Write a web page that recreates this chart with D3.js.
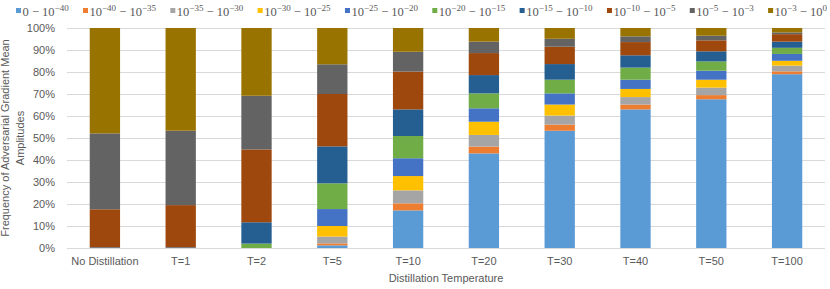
<!DOCTYPE html>
<html lang="en">
<head>
    <meta charset="UTF-8">
    <title>Distillation</title>
    <script src="https://cdn.jsdelivr.net/npm/d3@7"></script>
    <style>
        body { margin: 0; background: #fff; }
        text { font-family: "Liberation Sans", Arial, sans-serif; }
        .legend text { font-family: "Liberation Serif", "Times New Roman", serif; }
    </style>
</head>
<body>
    <svg id="mainsvg" width="830" height="289"></svg>
    <script>
        // categories (x axis)
        const categories = ["No Distillation", "T=1", "T=2", "T=5", "T=10", "T=20", "T=30", "T=40", "T=50", "T=100"];
        // series: amplitude ranges, [lower exponent, upper exponent] (null = 0)
        const seriesRanges = [[null, -40], [-40, -35], [-35, -30], [-30, -25], [-25, -20],
                              [-20, -15], [-15, -10], [-10, -5], [-5, -3], [-3, 0]];
        const seriesColors = ["#5B9BD5", "#ED7D31", "#A5A5A5", "#FFC000", "#4472C4",
                              "#70AD47", "#255E91", "#9E480E", "#636363", "#997300"];
        // percent per series, one value per category
        const s0  = [0,    0,    0,    1.2,  17.1, 43.0, 53.3, 63.0, 67.6, 79.0];
        const s1  = [0,    0,    0,    0.9,  3.2,  3.1,  2.8,  2.2,  1.9,  1.3];
        const s2  = [0,    0,    0,    3.1,  5.9,  5.3,  4.1,  3.4,  3.4,  2.6];
        const s3  = [0,    0,    0,    4.8,  6.5,  6.0,  5.0,  3.7,  3.6,  2.2];
        const s4  = [0,    0,    0,    7.7,  8.1,  6.1,  5.1,  4.2,  4.1,  3.1];
        const s5  = [0,    0,    2.0,  11.7, 10.1, 6.8,  6.2,  5.5,  4.2,  2.8];
        const s6  = [0.3,  0.3,  9.7,  16.8, 12.1, 8.3,  7.1,  5.6,  4.6,  2.8];
        const s7  = [17.3, 19.2, 33.1, 23.8, 17.2, 10.0, 7.9,  6.0,  5.0,  3.4];
        const s8  = [34.5, 33.8, 24.4, 13.5, 9.0,  5.2,  3.6,  2.6,  2.1,  0.8];
        const s9  = [47.9, 46.7, 30.8, 16.5, 10.8, 6.2,  4.9,  3.8,  3.5,  2.0];
        const seriesValues = [s0, s1, s2, s3, s4, s5, s6, s7, s8, s9];
        const yTicks = [0, 10, 20, 30, 40, 50, 60, 70, 80, 90, 100];

        const svg = d3.select("svg");
        const margin = {top: 28, right: 5, bottom: 41, left: 67};
        const width = +svg.attr('width');
        const height = +svg.attr('height');
        const innerWidth = width - margin.left - margin.right;
        const innerHeight = height - margin.top - margin.bottom;
        const textColor = "#595959";

        const g = svg.append('g')
            .attr("transform", `translate(${margin.left}, ${margin.top})`);

        const x = d3.scaleBand()
            .domain(categories)
            .range([0, innerWidth])
            .paddingInner(0.6)
            .paddingOuter(0.3);
        const y = d3.scaleLinear()
            .domain([0, 100])
            .range([innerHeight, 0]);

        // gridlines
        g.selectAll(".grid")
            .data(yTicks)
            .join("line")
            .attr("class", "grid")
            .attr("x1", 0)
            .attr("x2", innerWidth)
            .attr("y1", d => Math.round(y(d)) + 0.5)
            .attr("y2", d => Math.round(y(d)) + 0.5)
            .attr("stroke", "#D9D9D9")
            .attr("stroke-width", 1);

        // stacked data
        const rows = categories.map((c, i) => {
            const r = {cat: c};
            seriesValues.forEach((s, k) => r["s" + k] = s[i]);
            return r;
        });
        const keys = seriesValues.map((s, k) => "s" + k);
        const stacked = d3.stack().keys(keys)(rows);

        g.selectAll(".series")
            .data(stacked)
            .join("g")
            .attr("class", "series")
            .attr("fill", (d, i) => seriesColors[i])
            .selectAll("rect")
            .data(d => d)
            .join("rect")
            .attr("x", d => x(d.data.cat))
            .attr("width", x.bandwidth())
            .attr("y", d => y(d[1]))
            .attr("height", d => Math.max(0, y(d[0]) - y(d[1])));

        // y axis
        const yAxis = d3.axisLeft(y)
            .tickValues(yTicks)
            .tickFormat(d => d + "%")
            .tickSize(0)
            .tickPadding(12);
        const ya = g.append("g").call(yAxis);
        ya.select(".domain").remove();
        ya.selectAll("text")
            .attr("fill", textColor)
            .attr("font-size", 11)
            .attr("font-family", '"Liberation Sans", Arial, sans-serif');

        // x axis
        const xAxis = d3.axisBottom(x).tickSize(0).tickPadding(9);
        const xa = g.append("g")
            .attr("transform", `translate(0, ${innerHeight})`)
            .call(xAxis);
        xa.select(".domain").remove();
        xa.selectAll("text")
            .attr("fill", textColor)
            .attr("font-size", 11)
            .attr("font-family", '"Liberation Sans", Arial, sans-serif');

        // axis titles
        svg.append("text")
            .attr("x", margin.left + innerWidth / 2)
            .attr("y", 282)
            .attr("text-anchor", "middle")
            .attr("fill", textColor)
            .attr("font-size", 11)
            .text("Distillation Temperature");

        const yTitle = svg.append("text")
            .attr("transform", `translate(12, ${margin.top + innerHeight / 2}) rotate(-90)`)
            .attr("text-anchor", "middle")
            .attr("fill", textColor)
            .attr("font-size", 11);
        yTitle.append("tspan").attr("x", 0).attr("dy", -3).text("Frequency of Adversarial Gradient Mean");
        yTitle.append("tspan").attr("x", 0).attr("dy", 15).text("Amplitudes");

        // legend: build items first, then spread them across the top
        const legend = svg.append("g").attr("class", "legend");
        const mainSize = 12.5, supSize = 9, supShift = 5;
        const legLeft = 16, legRight = 827;
        const items = seriesRanges.map((r, i) => {
            const item = legend.append("g");
            item.append("rect")
                .attr("x", 0).attr("y", 8)
                .attr("width", 5).attr("height", 5)
                .attr("fill", seriesColors[i]);
            const t = item.append("text")
                .attr("x", 6.5).attr("y", 16)
                .attr("fill", textColor)
                .attr("font-size", mainSize);
            if (r[0] === null) {
                t.append("tspan").text("0 \u2212 10");
            } else {
                t.append("tspan").text("10");
                t.append("tspan").attr("dy", -supShift).attr("font-size", supSize).text(r[0] < 0 ? "\u2212" + (-r[0]) : r[0]);
                t.append("tspan").attr("dy", supShift).text(" \u2212 10");
            }
            t.append("tspan").attr("dy", -supShift).attr("font-size", supSize).text(r[1] < 0 ? "\u2212" + (-r[1]) : r[1]);
            return {item, w: 6.5 + t.node().getComputedTextLength()};
        });
        const totalW = d3.sum(items, d => d.w);
        const gap = (legRight - legLeft - totalW) / (items.length - 1);
        let lx = legLeft;
        items.forEach(d => {
            d.item.attr("transform", `translate(${lx}, 0)`);
            lx += d.w + gap;
        });
    </script>
</body>
</html>
